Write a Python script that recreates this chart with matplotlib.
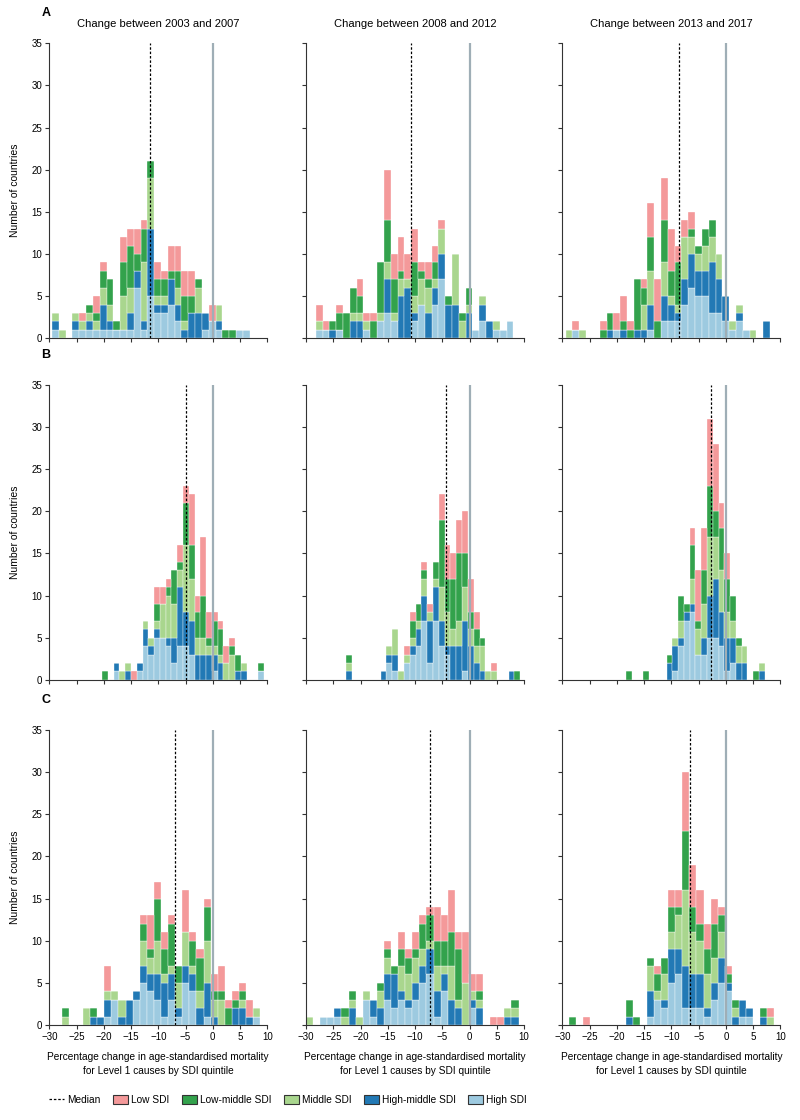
import numpy as np
import matplotlib
matplotlib.use("Agg")
import matplotlib.pyplot as plt
from matplotlib.lines import Line2D
from matplotlib.patches import Patch

plt.rcParams['font.family'] = ['Liberation Sans Narrow', 'Liberation Sans', 'DejaVu Sans']

# SDI quintiles, stacked bottom -> top
categories = ['High SDI', 'High-middle SDI', 'Middle SDI', 'Low-middle SDI', 'Low SDI']
colors = ['#9DCAE0', '#2279B5', '#A9D68E', '#33A24C', '#F4999A']

col_titles = ['Change between 2003 and 2007', 'Change between 2008 and 2012',
              'Change between 2013 and 2017']
row_labels = ['A', 'B', 'C']

# bin start and bin width per panel (row-major)
bin_start = [[-29.5, -28.2, -29.4], [-20.3, -22.7, -18.3], [-27.7, -30.0, -28.8]]
bin_width = [[1.25, 1.25, 1.25], [1.06, 1.067, 1.06], [1.3, 1.3, 1.3]]
medians = [[-11.5, -10.7, -8.6], [-4.9, -4.3, -2.7], [-7.0, -7.2, -6.5]]

# counts per bin: (high, high-middle, middle, low-middle, low)
a1 = [[1,1,1,0,0],[0,0,1,0,0],[0,0,0,0,0],[1,1,1,0,0],[1,0,1,0,1],[1,1,1,1,0],
      [1,0,1,1,2],[1,3,2,2,1],[1,1,2,3,0],[1,0,0,1,0],[1,0,4,4,3],[1,2,3,5,2],
      [6,2,0,2,3],[1,1,7,4,1],[5,8,6,2,0],[3,1,1,2,2],[3,1,1,2,1],[4,3,0,1,3],
      [2,2,2,2,3],[0,1,1,3,3],[0,3,0,2,3],[0,3,3,1,0],[1,2,0,0,0],[2,0,0,0,2],
      [1,1,2,0,0],[0,0,0,1,0],[0,0,0,1,0],[1,0,0,0,0],[1,0,0,0,0]]
a2 = [[1,0,1,0,2],[1,0,0,0,1],[0,1,0,1,0],[1,0,0,2,1],[0,0,0,3,0],[0,2,1,3,0],
      [0,2,1,2,2],[1,0,1,0,1],[0,0,0,2,1],[2,0,1,6,0],[3,4,2,5,6],[2,0,1,4,3],
      [0,5,2,1,4],[0,6,1,0,3],[2,1,2,4,4],[4,0,3,1,1],[0,3,3,1,2],[4,2,1,2,2],
      [7,3,3,0,1],[0,4,0,1,0],[0,4,6,0,0],[0,0,2,1,0],[0,3,1,2,0],[1,0,0,0,0],
      [2,2,1,0,0],[0,2,0,0,0],[1,0,1,0,0],[1,0,0,0,0],[2,0,0,0,0]]
a3 = [[0,0,1,0,0],[1,0,0,0,1],[0,0,1,0,0],[0,0,0,0,0],[0,0,0,0,0],[0,0,0,1,1],
      [0,1,0,2,0],[1,0,0,0,2],[0,1,0,1,3],[0,0,0,1,1],[0,1,0,6,0],[0,1,3,2,1],
      [1,3,4,4,4],[0,0,0,2,5],[2,3,4,5,5],[2,2,1,3,5],[2,1,1,5,2],[4,3,5,0,2],
      [6,4,2,1,2],[5,3,2,1,0],[5,3,3,2,0],[3,6,3,2,0],[3,4,3,0,0],[2,3,0,0,0],
      [1,0,1,0,0],[2,1,1,0,0],[1,0,0,0,0],[0,0,1,0,0],[0,0,0,0,0],[0,2,0,0,0]]
b1 = [[0,0,0,1,0],[0,0,0,0,0],[1,1,0,0,0],[0,0,1,0,0],[0,1,1,0,0],[0,0,0,0,1],
      [1,1,0,0,0],[4,2,1,0,0],[3,1,1,0,0],[5,1,1,2,2],[5,0,4,0,2],[4,1,5,1,1],
      [2,3,4,4,0],[4,7,2,1,2],[4,4,8,5,2],[3,4,5,4,6],[0,3,2,3,2],[0,3,2,5,7],
      [0,3,1,1,3],[1,2,1,3,1],[0,2,1,3,1],[0,0,2,0,2],[0,0,3,1,1],[0,1,0,2,0],
      [0,1,1,0,0],[0,0,0,0,0],[0,0,0,0,0],[1,0,0,1,0]]
b2 = [[0,1,1,1,0],[0,0,0,0,0],[0,0,0,0,0],[0,0,0,0,0],[0,0,0,0,0],[0,0,0,0,0],
      [0,1,0,0,0],[2,1,1,0,0],[1,2,3,0,0],[0,0,1,0,0],[2,0,1,0,1],[3,1,1,2,1],
      [4,2,1,2,0],[7,3,2,1,1],[2,5,1,0,1],[7,4,1,2,0],[4,3,4,8,3],[3,1,4,4,4],
      [0,4,2,6,3],[0,4,3,8,4],[1,6,4,4,5],[0,4,2,2,4],[0,2,2,2,2],[0,1,3,1,0],
      [0,0,1,0,0],[0,0,1,0,1],[0,0,0,0,0],[0,0,0,0,0],[0,1,0,0,0],[0,0,0,1,0]]
b3 = [[0,0,0,1,0],[0,0,0,0,0],[0,0,0,0,0],[0,0,0,1,0],[0,0,0,0,0],[0,0,0,0,0],
      [0,0,0,0,0],[0,2,0,1,0],[1,3,1,0,0],[4,1,2,3,0],[7,1,0,1,0],[8,1,3,4,2],
      [3,0,3,1,6],[3,2,4,4,5],[5,5,7,6,8],[5,7,5,3,8],[4,4,5,5,3],[1,4,3,4,3],
      [2,3,2,3,0],[0,2,2,1,0],[0,2,2,0,0],[0,0,0,0,0],[0,0,0,1,0],[0,1,1,0,0]]
c1 = [[0,0,1,1,0],[0,0,0,0,0],[0,0,0,0,0],[0,0,2,0,0],[0,1,0,1,0],[0,1,0,0,0],
      [1,2,1,0,3],[3,0,1,0,0],[0,1,2,0,0],[0,3,0,0,0],[3,1,0,0,0],[5,2,3,2,1],
      [4,2,2,1,4],[3,3,4,5,2],[1,4,1,3,2],[3,3,1,5,1],[1,1,3,2,0],[5,2,4,0,5],
      [4,2,1,3,1],[0,2,2,4,1],[1,4,5,4,1],[0,1,2,1,2],[0,0,3,1,3],[0,0,0,2,1],
      [0,2,0,1,1],[0,2,1,1,1],[0,1,0,0,2],[1,0,1,0,0]]
c2 = [[0,0,1,0,0],[0,0,0,0,0],[1,0,0,0,0],[1,0,0,0,0],[1,1,0,0,0],[0,0,1,1,0],
      [0,2,1,1,0],[0,0,1,0,0],[3,0,1,0,0],[1,2,0,0,0],[0,2,2,1,0],[3,3,2,1,1],
      [2,4,0,1,0],[3,1,3,2,2],[2,1,3,2,1],[3,2,3,1,2],[5,2,2,3,1],[6,3,1,3,1],
      [1,3,3,3,4],[4,2,1,3,3],[0,3,4,4,5],[0,2,1,6,2],[0,0,5,0,6],[2,1,1,0,2],
      [0,2,1,1,2],[0,0,0,0,0],[0,0,0,0,1],[0,0,0,0,1],[0,1,1,0,0],[0,1,1,1,0]]
c3 = [[0,0,0,1,0],[0,0,0,0,0],[0,0,0,0,1],[0,0,0,0,0],[0,0,0,0,0],[0,0,0,0,0],
      [0,0,0,0,0],[0,0,0,0,0],[0,1,0,2,0],[0,0,0,1,0],[0,0,0,0,0],[1,3,3,1,0],
      [3,0,1,2,1],[2,1,3,2,0],[5,4,2,3,2],[6,3,4,1,2],[2,5,9,7,7],[2,4,5,3,5],
      [2,4,4,2,4],[1,1,4,3,3],[3,2,3,4,3],[5,3,3,2,1],[4,1,0,1,1],[0,1,1,1,0],
      [1,2,0,0,0],[1,1,0,0,0],[0,0,0,0,0],[0,1,0,1,0],[0,0,1,0,1]]

panels = [[a1, a2, a3], [b1, b2, b3], [c1, c2, c3]]

fig = plt.figure(figsize=(8, 11.2), dpi=100)

lefts = [0.0616, 0.3825, 0.703]
bottoms = [0.698, 0.393, 0.0848]
w_ax, h_ax = 0.2725, 0.2634

for r in range(3):
    for c in range(3):
        ax = fig.add_axes([lefts[c], bottoms[r], w_ax, h_ax])
        counts = np.array(panels[r][c]).T
        n = counts.shape[1]
        x = bin_start[r][c] + bin_width[r][c] * np.arange(n)
        bottom = np.zeros(n)
        for k in range(5):
            ax.bar(x, counts[k], width=bin_width[r][c], bottom=bottom, align='edge',
                   color=colors[k], edgecolor='#ffffff', linewidth=0.25, zorder=2)
            bottom += counts[k]
        ax.axvline(0, color='#9FAEB6', lw=1.6, zorder=3)
        ax.axvline(medians[r][c], color='black', lw=0.9, ls=(0, (2, 1.5)), zorder=4)

        ax.set_xlim(-30, 10)
        ax.set_ylim(0, 35)
        ax.set_xticks(np.arange(-30, 11, 5))
        ax.set_yticks(np.arange(0, 36, 5))
        for s in ['top', 'right']:
            ax.spines[s].set_visible(False)
        for s in ['left', 'bottom']:
            ax.spines[s].set_color('#333333')
            ax.spines[s].set_linewidth(0.8)
        ax.tick_params(axis='both', length=3, width=0.8, color='#333333',
                       labelsize=7, pad=2)
        ax.set_xticklabels([str(t).replace('-', '\u2212') for t in range(-30, 11, 5)])
        if r < 2:
            ax.tick_params(axis='x', labelbottom=False)
        if c > 0:
            ax.tick_params(axis='y', labelleft=False)
        else:
            ax.set_ylabel('Number of countries', fontsize=7.5, labelpad=8)
        if r == 0:
            ax.set_title(col_titles[c], fontsize=8, pad=12)
        if r == 2:
            ax.set_xlabel('Percentage change in age-standardised mortality\n'
                          'for Level 1 causes by SDI quintile', fontsize=7.3,
                          labelpad=7, linespacing=1.5)

for r in range(3):
    fig.text(0.052, bottoms[r] + h_ax + 0.027, row_labels[r], fontsize=9,
             fontweight='bold', va='center', ha='left')

handles = [Line2D([0], [0], color='black', lw=0.9, ls=(0, (2, 1.5)))]
labels = ['Median']
for k in range(4, -1, -1):
    handles.append(Patch(facecolor=colors[k], edgecolor='#333333', linewidth=0.8))
    labels.append(categories[k])
fig.legend(handles, labels, loc='center left', bbox_to_anchor=(0.05, 0.018), ncol=6,
           frameon=False, fontsize=7.3, handlelength=1.5, handleheight=0.9,
           columnspacing=1.2, handletextpad=0.3)

fig.savefig('out.png', dpi=100, facecolor='white')
